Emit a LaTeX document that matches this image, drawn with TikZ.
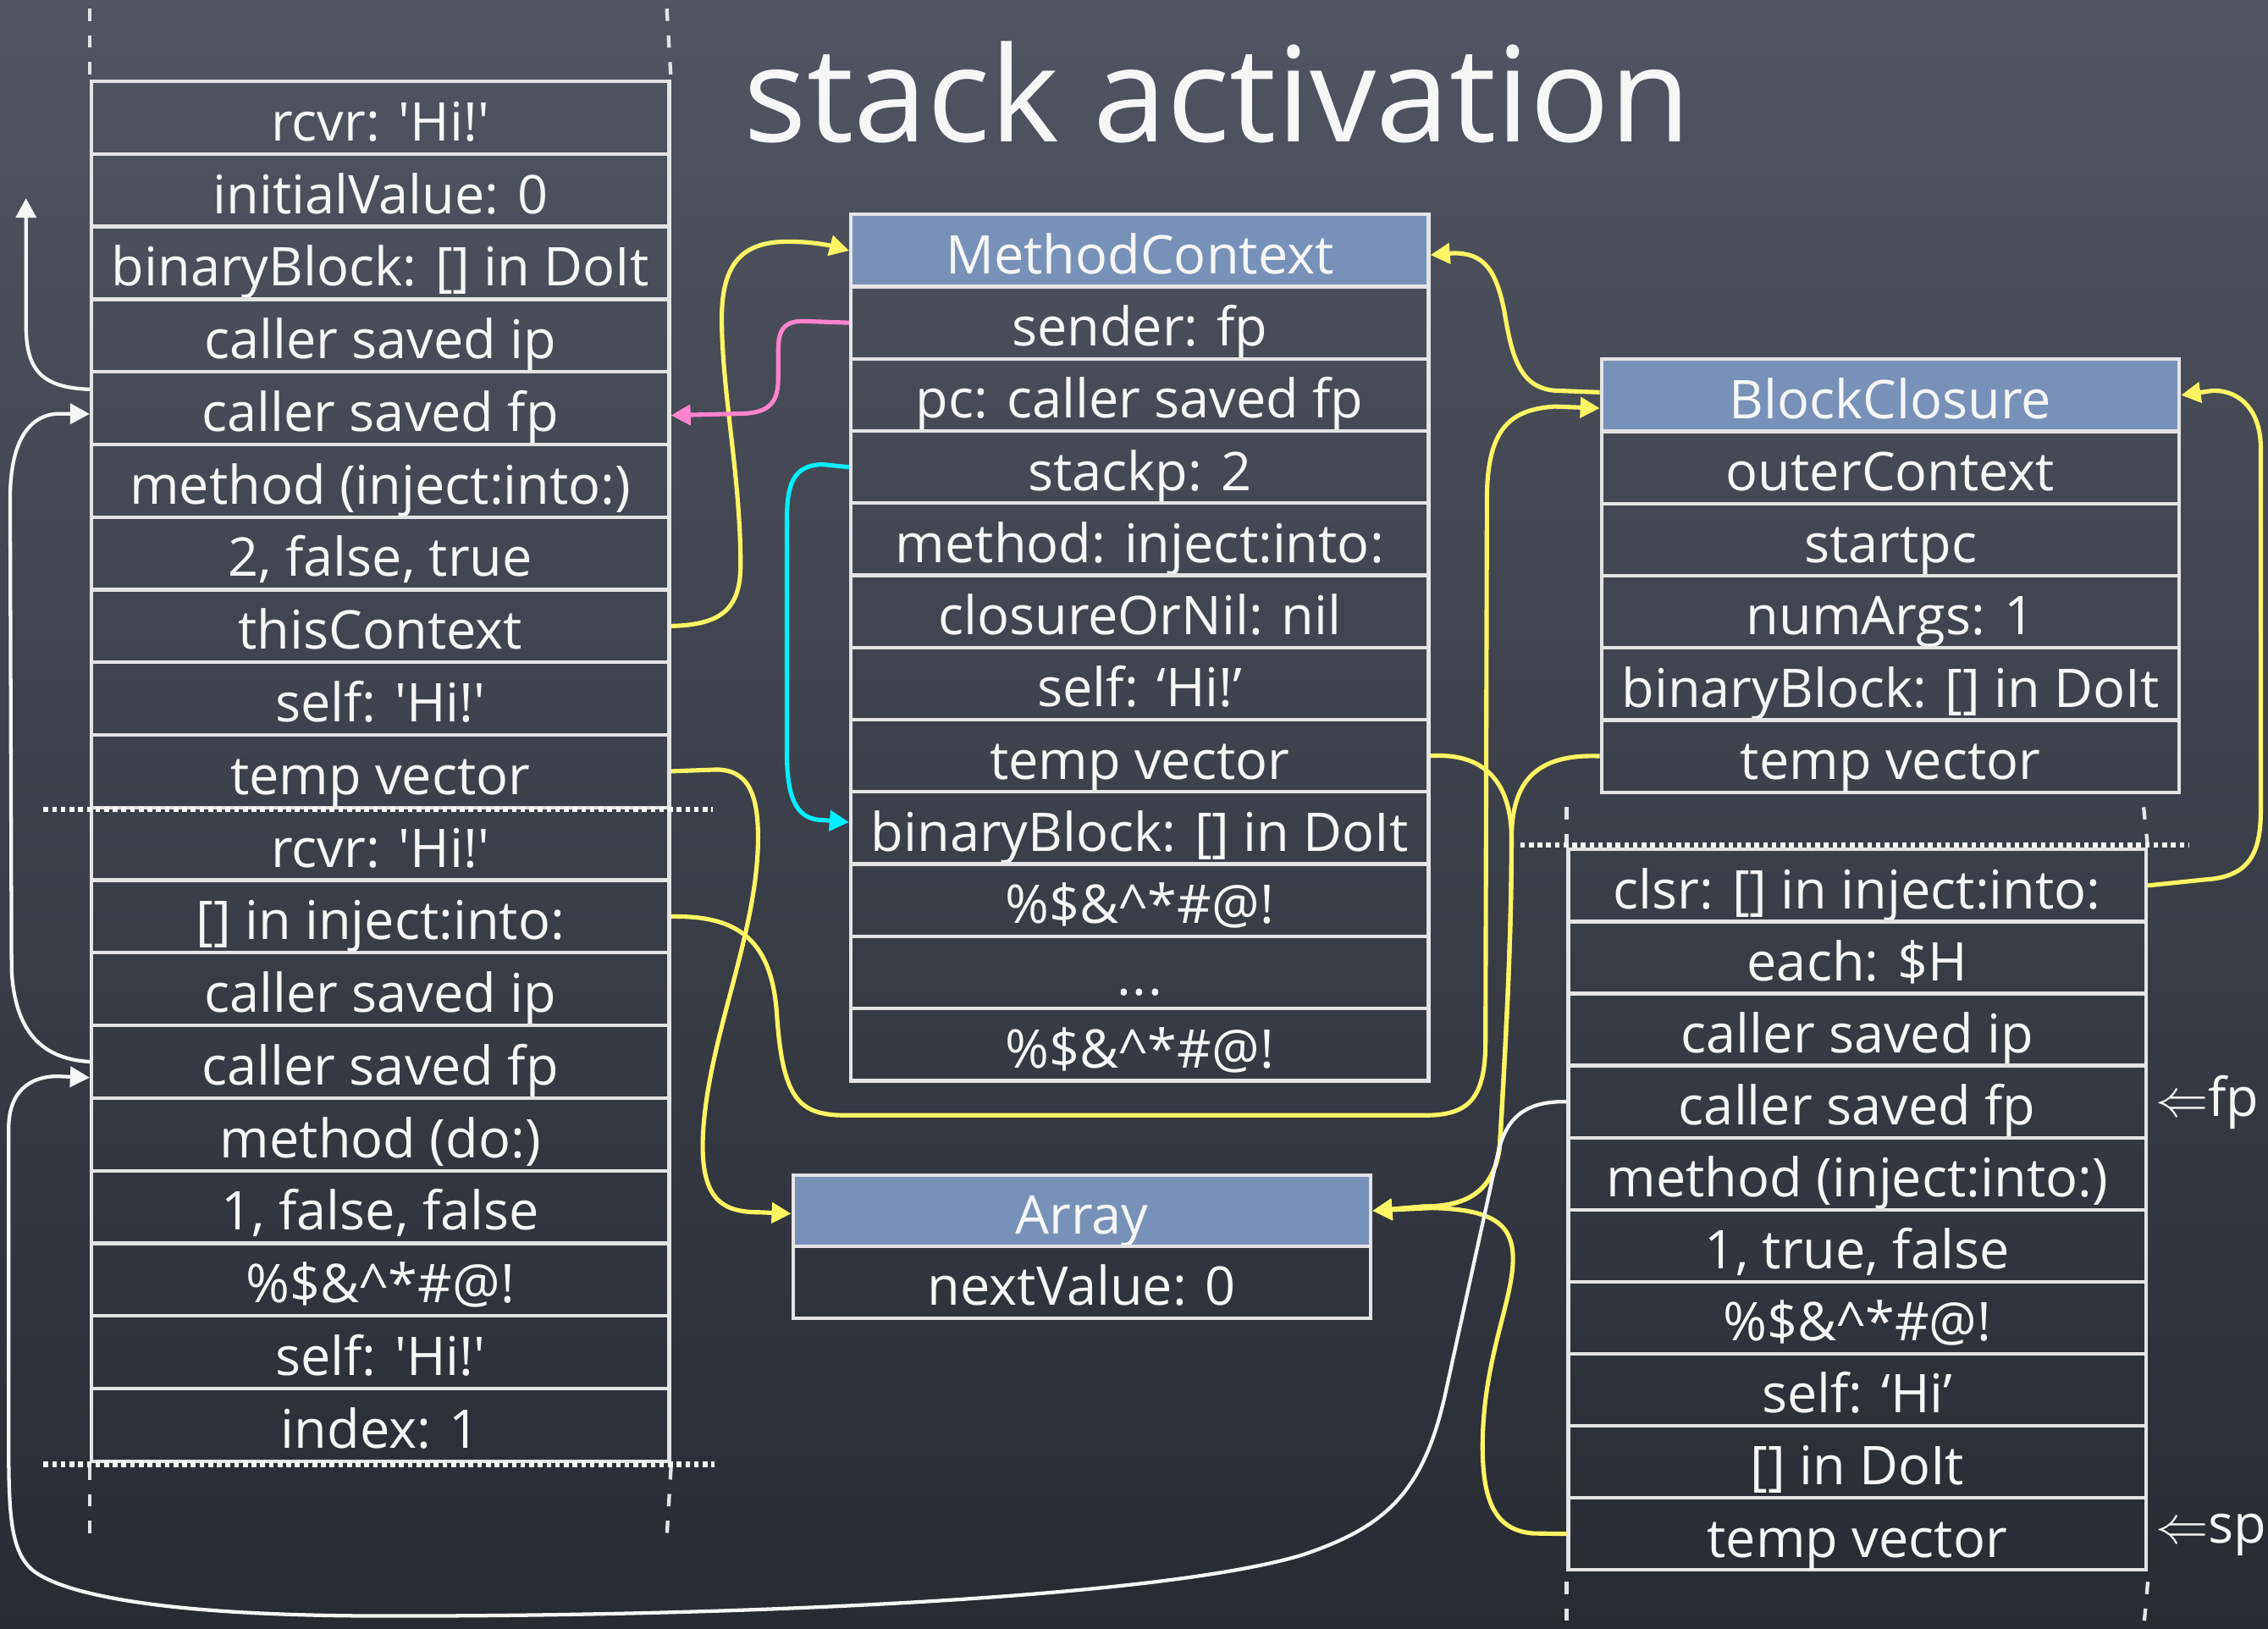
\documentclass[tikz,border=0pt]{standalone}
\usepackage{fontspec}
\setmainfont{Open Sans}
\usetikzlibrary{arrows.meta,calc}
\definecolor{boardtop}{RGB}{80,85,97}
\definecolor{boardbot}{RGB}{40,43,50}
\definecolor{linec}{RGB}{228,228,230}
\definecolor{headblue}{RGB}{120,145,185}
\definecolor{yel}{RGB}{255,245,100}
\definecolor{pinkc}{RGB}{255,130,205}
\definecolor{cyanc}{RGB}{0,240,255}
\definecolor{chalk}{RGB}{246,246,246}
\newcommand\chalkfont{\fontsize{21}{25}\selectfont}
\newcommand\threedots{.\kern0.5pt.\kern0.5pt.}
\begin{document}
\begin{tikzpicture}[x=0.02cm,y=-0.02cm,
  cell/.style={draw=linec, line width=0.05cm, minimum width=7.99cm, minimum height=1cm,
    inner sep=0pt, anchor=north west, text=chalk, font=\chalkfont,
    text height=0.66cm, text depth=0.02cm},
  headcell/.style={cell, fill=headblue},
  lbl/.style={text=chalk, font=\chalkfont, inner sep=0pt},
  dashv/.style={draw=linec, line width=0.05cm, dash pattern=on 0.17cm off 0.2cm},
  dotl/.style={draw=chalk, line width=0.075cm, dash pattern=on 0.065cm off 0.055cm},
  tipshape/.style={-{Triangle[length=0.27cm,width=0.28cm]}},
  yarr/.style={draw=yel, line width=0.06cm, tipshape},
  parr/.style={draw=pinkc, line width=0.06cm, tipshape},
  carr/.style={draw=cyanc, line width=0.06cm, tipshape},
  warr/.style={draw=chalk, line width=0.05cm, tipshape},
]
\useasboundingbox (0,0) rectangle (1568,1126);
\shade[top color=boardtop,bottom color=boardbot] (0,0) rectangle (1568,1126);

% title
\node[text=chalk, font=\fontsize{52}{60}\selectfont, anchor=base west, inner sep=0pt] (title) at (514,98) {stack activation};

% left stack
\foreach \t [count=\i] in {
 {rcvr: \textquotesingle Hi!\textquotesingle},
 {initialValue: 0},
 {binaryBlock: [] in DoIt},
 {caller saved ip},
 {caller saved fp},
 {method (inject:into:)},
 {2, false, true},
 {thisContext},
 {self: \textquotesingle Hi!\textquotesingle},
 {temp vector},
 {rcvr: \textquotesingle Hi!\textquotesingle},
 {[] in inject:into:},
 {caller saved ip},
 {caller saved fp},
 {method (do:)},
 {1, false, false},
 {\%\$\&\textasciicircum*\#@!},
 {self: \textquotesingle Hi!\textquotesingle},
 {index: 1}}
 \node[cell, minimum height=1.004cm] (L\i) at (62,{55+(\i-1)*50.2}) {\t};

% MethodContext
\node[headcell] (M1) at (587,147) {MethodContext};
\foreach \t [count=\i from 2] in {
 {sender: fp},
 {pc: caller saved fp},
 {stackp: 2},
 {method: inject:into:},
 {closureOrNil: nil},
 {self: ‘Hi!’},
 {temp vector},
 {binaryBlock: [] in DoIt},
 {\%\$\&\textasciicircum*\#@!},
 {\threedots},
 {\%\$\&\textasciicircum*\#@!}}
 \node[cell, minimum height=0.998cm] (M\i) at (587,{147+(\i-1)*49.9}) {\t};

% BlockClosure
\node[headcell, minimum height=0.998cm] (B1) at (1106,247) {BlockClosure};
\foreach \t [count=\i from 2] in {
 {outerContext},
 {startpc},
 {numArgs: 1},
 {binaryBlock: [] in DoIt},
 {temp vector}}
 \node[cell, minimum height=0.998cm] (B\i) at (1106,{247+(\i-1)*49.9}) {\t};

% Array
\node[headcell, minimum height=0.99cm] (A1) at (547,811) {Array};
\node[cell, minimum height=0.99cm] (A2) at (547,860.5) {nextValue: 0};

% right stack
\foreach \t [count=\i] in {
 {clsr: [] in inject:into:},
 {each: \$H},
 {caller saved ip},
 {caller saved fp},
 {method (inject:into:)},
 {1, true, false},
 {\%\$\&\textasciicircum*\#@!},
 {self: ‘Hi’},
 {[] in DoIt},
 {temp vector}}
 \node[cell, minimum height=0.996cm] (R\i) at (1083,{586+(\i-1)*49.8}) {\t};

\node[lbl, anchor=west] (fp) at (1490,762) {$\Leftarrow$fp};
\node[lbl, anchor=west] (sp) at (1490,1061) {$\Leftarrow$sp};

% dashed stack continuations
\draw[dashv] (62,6) -- (L1.north west);
\draw[dashv] (461,6) -- (L1.north east);
\draw[dashv] ($(L19.south west)+(0,3)$) -- (62,1062);
\draw[dashv] ($(L19.south east)+(0,3)$) -- (461,1062);
\draw[dashv] (1083,558) -- (R1.north west);
\draw[dashv] (1482,558) -- (R1.north east);
\draw[dashv] ($(R10.south west)+(0,7)$) -- (1083,1126);
\draw[dashv] ($(R10.south east)+(0,7)$) -- (1482,1126);

% dotted frame separators
\draw[dotl] ($(L10.south west)+(-32,0)$) -- ($(L10.south east)+(29,0)$);
\draw[dotl] ($(L19.south west)+(-32,1)$) -- ($(L19.south east)+(30,1)$);
\draw[dotl] ($(R1.north west)+(-32,-2)$) -- ($(R1.north east)+(28,-2)$);

% yellow connectors
\draw[yarr] (L8.east) .. controls (500,432) and (512,420) .. (512,390)
  .. controls (512,330) and (499,270) .. (499,220)
  .. controls (499,180) and (515,167) .. (545,167)
  .. controls (562,167) and (575,170) .. (M1.west);
\draw[yarr] ($(B1.west)+(0,-2)$) -- (1075,270)
  .. controls (1050,268) and (1045,245) .. (1040,215)
  .. controls (1034,185) and (1025,175) .. (1005,175) -- ($(M1.east)+(0,3)$);
\draw[yarr] (L12.east) .. controls (505,633) and (533,645) .. (537,700)
  .. controls (541,760) and (552,771) .. (585,771) -- (985,771)
  .. controls (1015,771) and (1027,760) .. (1027,720) -- (1028,345)
  .. controls (1028,295) and (1045,283) .. (1075,281) -- ($(B1.west)+(0,9)$);
\draw[yarr] (L10.east) -- (495,532)
  .. controls (518,532) and (525,550) .. (524,585)
  .. controls (522,650) and (489,720) .. (486,785)
  .. controls (484,830) and (500,838) .. (525,838) -- ($(A1.west)+(0,2)$);
\draw[yarr] (M8.east) .. controls (1030,520) and (1045,545) .. (1045,580)
  .. controls (1045,650) and (1041,720) .. (1037,790)
  .. controls (1034,825) and (1012,834) .. (985,834) -- (A1.east);
\draw[yarr] (B6.west) .. controls (1062,521) and (1045,540) .. (1045,580)
  .. controls (1045,650) and (1041,720) .. (1037,790)
  .. controls (1034,825) and (1012,834) .. (985,834) -- (A1.east);
\draw[yarr] (R10.west) -- (1060,1060)
  .. controls (1035,1058) and (1025,1040) .. (1025,1000)
  .. controls (1025,940) and (1046,900) .. (1046,870)
  .. controls (1046,845) and (1030,836) .. (990,835) -- (A1.east);
\draw[yarr] (R1.east) -- (1525,608)
  .. controls (1555,606) and (1563,590) .. (1563,560) -- (1563,310)
  .. controls (1563,285) and (1550,270) .. (1530,270) -- (B1.east);

% pink and cyan
\draw[parr] (M2.west) -- (555,222)
  .. controls (539,222) and (538,232) .. (538,245) -- (538,262)
  .. controls (538,280) and (530,286) .. (510,286) -- ($(L5.east)+(0,5)$);
\draw[carr] (M4.west) -- (568,321)
  .. controls (548,322) and (544,335) .. (544,360) -- (544,520)
  .. controls (544,555) and (552,567) .. (570,567) -- ($(M9.west)+(0,-4)$);

% white connectors
\coordinate (wtop) at (18,137);
\draw[warr] ($(L5.west)+(0,-13)$) .. controls (28,268) and (18,255) .. (18,225) -- (wtop);
\draw[warr] (L14.west) .. controls (28,732) and (10,712) .. (8,670) -- (7,345)
  .. controls (7,305) and (20,287) .. (40,286) -- ($(L5.west)+(0,4)$);
\draw[warr] (R4.west) .. controls (1052,761) and (1040,775) .. (1035,800) -- (1000,960)
  .. controls (985,1030) and (960,1055) .. (900,1075)
  .. controls (800,1105) and (500,1118) .. (250,1117)
  .. controls (100,1116) and (40,1100) .. (22,1085)
  .. controls (8,1072) and (6,1050) .. (6,1000) -- (6,780)
  .. controls (6,755) and (20,744) .. (40,744) -- ($(L14.west)+(0,11)$);
\end{tikzpicture}
\end{document}
